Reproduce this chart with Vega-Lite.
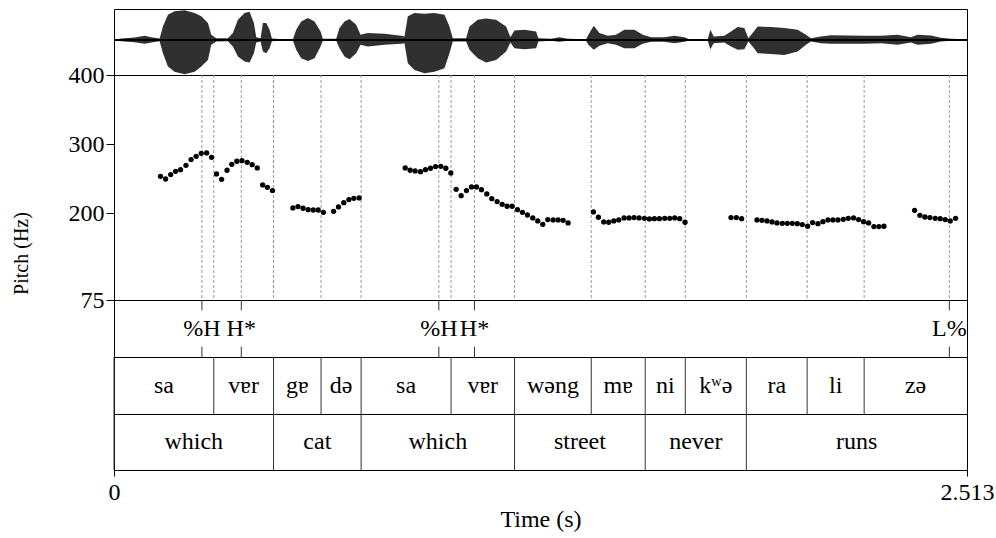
{
  "$schema": "https://vega.github.io/schema/vega-lite/v6.json",
  "background": "white",
  "padding": {"left": 10, "top": 8, "right": 0, "bottom": 0},
  "spacing": 0,
  "bounds": "flush",
  "config": {
    "font": "'Liberation Serif', 'DejaVu Serif', serif",
    "text": {"font": "'Liberation Serif', 'DejaVu Serif', serif"},
    "view": {"stroke": "black", "strokeWidth": 1},
    "axis": {"grid": false, "domainColor": "black", "tickColor": "black", "labelColor": "black", "titleColor": "black", "labelFont": "'Liberation Serif', 'DejaVu Serif', serif", "titleFont": "'Liberation Serif', 'DejaVu Serif', serif", "labelFontSize": 24, "titleFontSize": 24, "titleFontWeight": "normal"}
  },
  "datasets": {
    "wave": [
      {"t":0.0,"hi":0,"lo":0},{"t":0.0215,"hi":4,"lo":-4},{"t":0.0608,"hi":7,"lo":-7},{"t":0.0902,"hi":12,"lo":-12},{"t":0.1098,"hi":8,"lo":-8},{"t":0.1344,"hi":4,"lo":-4},{"t":0.1442,"hi":40,"lo":-40},{"t":0.1589,"hi":75,"lo":-80},{"t":0.1785,"hi":85,"lo":-95},{"t":0.2080,"hi":88,"lo":-103},{"t":0.2374,"hi":80,"lo":-95},{"t":0.2571,"hi":70,"lo":-80},{"t":0.2767,"hi":50,"lo":-60},{"t":0.2865,"hi":15,"lo":-15},{"t":0.3012,"hi":5,"lo":-5},{"t":0.3356,"hi":5,"lo":-4},{"t":0.3503,"hi":20,"lo":-20},{"t":0.3650,"hi":60,"lo":-50},{"t":0.3847,"hi":80,"lo":-65},{"t":0.3994,"hi":84,"lo":-68},{"t":0.4122,"hi":50,"lo":-40},{"t":0.4190,"hi":8,"lo":-8},{"t":0.4318,"hi":5,"lo":-5},{"t":0.4387,"hi":50,"lo":-35},{"t":0.4485,"hi":50,"lo":-40},{"t":0.4583,"hi":30,"lo":-25},{"t":0.4652,"hi":4,"lo":-4},{"t":0.4976,"hi":2,"lo":-2},{"t":0.5270,"hi":2,"lo":-2},{"t":0.5368,"hi":30,"lo":-30},{"t":0.5515,"hi":55,"lo":-55},{"t":0.5712,"hi":65,"lo":-63},{"t":0.5908,"hi":55,"lo":-55},{"t":0.6085,"hi":25,"lo":-20},{"t":0.6153,"hi":3,"lo":-3},{"t":0.6546,"hi":3,"lo":-3},{"t":0.6644,"hi":35,"lo":-25},{"t":0.6791,"hi":55,"lo":-50},{"t":0.6938,"hi":62,"lo":-58},{"t":0.7135,"hi":45,"lo":-40},{"t":0.7262,"hi":15,"lo":-15},{"t":0.7478,"hi":20,"lo":-20},{"t":0.7969,"hi":18,"lo":-15},{"t":0.8460,"hi":12,"lo":-12},{"t":0.8558,"hi":10,"lo":-10},{"t":0.8656,"hi":70,"lo":-70},{"t":0.8852,"hi":80,"lo":-90},{"t":0.9147,"hi":78,"lo":-100},{"t":0.9441,"hi":80,"lo":-95},{"t":0.9736,"hi":75,"lo":-85},{"t":0.9883,"hi":40,"lo":-40},{"t":0.9981,"hi":5,"lo":-5},{"t":1.0374,"hi":5,"lo":-5},{"t":1.0472,"hi":40,"lo":-30},{"t":1.0718,"hi":60,"lo":-55},{"t":1.0963,"hi":64,"lo":-68},{"t":1.1257,"hi":60,"lo":-60},{"t":1.1552,"hi":40,"lo":-35},{"t":1.1679,"hi":8,"lo":-8},{"t":1.1797,"hi":28,"lo":-25},{"t":1.2092,"hi":30,"lo":-28},{"t":1.2435,"hi":25,"lo":-25},{"t":1.2504,"hi":5,"lo":-5},{"t":1.2877,"hi":3,"lo":-3},{"t":1.3122,"hi":8,"lo":-6},{"t":1.3368,"hi":3,"lo":-3},{"t":1.3907,"hi":2,"lo":-2},{"t":1.3976,"hi":15,"lo":-15},{"t":1.4133,"hi":42,"lo":-30},{"t":1.4300,"hi":20,"lo":-18},{"t":1.4546,"hi":12,"lo":-10},{"t":1.4791,"hi":15,"lo":-15},{"t":1.5036,"hi":30,"lo":-25},{"t":1.5331,"hi":30,"lo":-25},{"t":1.5576,"hi":15,"lo":-12},{"t":1.5822,"hi":8,"lo":-6},{"t":1.6214,"hi":8,"lo":-6},{"t":1.6509,"hi":12,"lo":-10},{"t":1.6803,"hi":8,"lo":-6},{"t":1.6950,"hi":2,"lo":-2},{"t":1.7490,"hi":2,"lo":-2},{"t":1.7569,"hi":30,"lo":-28},{"t":1.7667,"hi":10,"lo":-10},{"t":1.7981,"hi":12,"lo":-8},{"t":1.8177,"hi":25,"lo":-20},{"t":1.8374,"hi":38,"lo":-30},{"t":1.8570,"hi":35,"lo":-28},{"t":1.8688,"hi":5,"lo":-5},{"t":1.8815,"hi":20,"lo":-20},{"t":1.8963,"hi":40,"lo":-40},{"t":1.9355,"hi":38,"lo":-42},{"t":1.9748,"hi":35,"lo":-45},{"t":2.0140,"hi":30,"lo":-35},{"t":2.0386,"hi":15,"lo":-15},{"t":2.0533,"hi":5,"lo":-5},{"t":2.0827,"hi":10,"lo":-10},{"t":2.1122,"hi":14,"lo":-12},{"t":2.1613,"hi":13,"lo":-12},{"t":2.2103,"hi":12,"lo":-12},{"t":2.2594,"hi":12,"lo":-10},{"t":2.3085,"hi":15,"lo":-15},{"t":2.3478,"hi":8,"lo":-8},{"t":2.3674,"hi":15,"lo":-15},{"t":2.4067,"hi":13,"lo":-12},{"t":2.4361,"hi":6,"lo":-5},{"t":2.4656,"hi":3,"lo":-3},{"t":2.5097,"hi":2,"lo":-2},{"t":2.513,"hi":1,"lo":-1}
    ],
    "pitch": [
      {"t":0.137,"f0":253.7},{"t":0.152,"f0":249.8},{"t":0.167,"f0":256.1},{"t":0.1815,"f0":260.9},{"t":0.196,"f0":263.3},{"t":0.212,"f0":269.6},{"t":0.227,"f0":277.8},{"t":0.242,"f0":282.6},{"t":0.257,"f0":286.9},{"t":0.273,"f0":287.4},{"t":0.2875,"f0":281.1},{"t":0.302,"f0":257.1},{"t":0.317,"f0":249.3},{"t":0.333,"f0":262.4},{"t":0.347,"f0":271.0},{"t":0.362,"f0":275.4},{"t":0.377,"f0":276.3},{"t":0.3925,"f0":273.9},{"t":0.407,"f0":270.5},{"t":0.422,"f0":265.7},{"t":0.438,"f0":241.2},{"t":0.452,"f0":237.8},{"t":0.467,"f0":233.0},
      {"t":0.527,"f0":208.0},{"t":0.542,"f0":209.9},{"t":0.557,"f0":207.5},{"t":0.572,"f0":205.5},{"t":0.587,"f0":205.0},{"t":0.6016,"f0":205.0},{"t":0.617,"f0":201.7},{"t":0.647,"f0":203.1},{"t":0.6615,"f0":209.4},{"t":0.677,"f0":215.6},{"t":0.692,"f0":220.0},{"t":0.7066,"f0":221.9},{"t":0.7223,"f0":222.4},
      {"t":0.858,"f0":265.7},{"t":0.8725,"f0":262.4},{"t":0.8873,"f0":261.4},{"t":0.903,"f0":260.4},{"t":0.9177,"f0":263.3},{"t":0.9324,"f0":265.3},{"t":0.9471,"f0":267.7},{"t":0.9628,"f0":268.1},{"t":0.9776,"f0":265.3},{"t":0.9923,"f0":258.5},{"t":1.008,"f0":234.9},{"t":1.0227,"f0":225.7},{"t":1.0384,"f0":233.0},{"t":1.0532,"f0":238.3},{"t":1.0679,"f0":238.3},{"t":1.0826,"f0":234.4},{"t":1.0983,"f0":228.2},{"t":1.113,"f0":221.4},{"t":1.1287,"f0":217.1},{"t":1.1435,"f0":213.2},{"t":1.1582,"f0":210.4},{"t":1.1729,"f0":210.4},{"t":1.1886,"f0":205.5},{"t":1.2033,"f0":201.7},{"t":1.218,"f0":197.8},{"t":1.2337,"f0":193.5},{"t":1.2485,"f0":189.2},{"t":1.2632,"f0":184.3},{"t":1.2779,"f0":191.1},{"t":1.2936,"f0":190.6},{"t":1.3084,"f0":190.6},{"t":1.3231,"f0":190.1},{"t":1.3378,"f0":186.3},
      {"t":1.4124,"f0":202.2},{"t":1.4271,"f0":194.5},{"t":1.4428,"f0":187.7},{"t":1.4575,"f0":187.3},{"t":1.4723,"f0":189.2},{"t":1.487,"f0":190.6},{"t":1.5027,"f0":193.5},{"t":1.5174,"f0":193.5},{"t":1.5321,"f0":194.0},{"t":1.5469,"f0":193.5},{"t":1.5626,"f0":193.0},{"t":1.5773,"f0":192.1},{"t":1.592,"f0":192.5},{"t":1.6067,"f0":192.5},{"t":1.6224,"f0":193.0},{"t":1.6372,"f0":193.0},{"t":1.6519,"f0":193.5},{"t":1.6666,"f0":192.5},{"t":1.6823,"f0":187.3},
      {"t":1.8177,"f0":194.0},{"t":1.8334,"f0":194.0},{"t":1.8491,"f0":192.5},
      {"t":1.8943,"f0":190.6},{"t":1.909,"f0":190.1},{"t":1.9237,"f0":189.2},{"t":1.9385,"f0":187.7},{"t":1.9532,"f0":186.3},{"t":1.9689,"f0":185.8},{"t":1.9836,"f0":185.8},{"t":1.9983,"f0":185.8},{"t":2.0131,"f0":185.3},{"t":2.0278,"f0":183.9},{"t":2.0435,"f0":181.5},{"t":2.0582,"f0":186.8},{"t":2.0739,"f0":185.3},{"t":2.0886,"f0":188.2},{"t":2.1034,"f0":190.6},{"t":2.1181,"f0":190.6},{"t":2.1328,"f0":190.6},{"t":2.1485,"f0":191.6},{"t":2.1632,"f0":193.0},{"t":2.1789,"f0":193.5},{"t":2.1937,"f0":191.1},{"t":2.2084,"f0":188.2},{"t":2.2231,"f0":186.3},{"t":2.2388,"f0":181.0},{"t":2.2535,"f0":181.0},{"t":2.2683,"f0":181.5},
      {"t":2.3586,"f0":204.6},{"t":2.3743,"f0":197.3},{"t":2.389,"f0":194.9},{"t":2.4037,"f0":194.0},{"t":2.4194,"f0":193.0},{"t":2.4341,"f0":192.5},{"t":2.4489,"f0":191.1},{"t":2.4636,"f0":189.2},{"t":2.4793,"f0":193.0}
    ],
    "tones": [
      {"t":0.259,"label":"%H"},{"t":0.375,"label":"H*"},{"t":0.957,"label":"%H"},{"t":1.062,"label":"H*"},{"t":2.461,"label":"L%"}
    ],
    "syll": [
      {"start":0.0,"end":0.294,"label":"sa"},{"start":0.294,"end":0.470,"label":"vɐr"},{"start":0.470,"end":0.610,"label":"gɐ"},{"start":0.610,"end":0.728,"label":"də"},{"start":0.728,"end":0.993,"label":"sa"},{"start":0.993,"end":1.180,"label":"vɐr"},{"start":1.180,"end":1.406,"label":"wəng"},{"start":1.406,"end":1.565,"label":"mɐ"},{"start":1.565,"end":1.683,"label":"ni"},{"start":1.683,"end":1.863,"label":"kʷə"},{"start":1.863,"end":2.042,"label":"ra"},{"start":2.042,"end":2.210,"label":"li"},{"start":2.210,"end":2.513,"label":"zə"}
    ],
    "words": [
      {"start":0.0,"end":0.470,"label":"which"},{"start":0.470,"end":0.728,"label":"cat"},{"start":0.728,"end":1.180,"label":"which"},{"start":1.180,"end":1.565,"label":"street"},{"start":1.565,"end":1.863,"label":"never"},{"start":1.863,"end":2.513,"label":"runs"}
    ]
  },
  "vconcat": [
    {
      "width": 853, "height": 66,
      "data": {"name": "wave"},
      "layer": [
        {"mark": {"type": "area", "color": "#1a1a1a", "opacity": 0.9},
         "encoding": {
           "x": {"field": "t", "type": "quantitative", "scale": {"domain": [0, 2.513], "nice": false, "zero": false}, "axis": null},
           "y": {"field": "hi", "type": "quantitative", "scale": {"domain": [-105, 92], "nice": false, "zero": false}, "axis": null},
           "y2": {"field": "lo"}
         }},
        {"mark": {"type": "rule", "color": "black", "strokeWidth": 1},
         "encoding": {"y": {"datum": 0, "type": "quantitative", "scale": {"domain": [-105, 92], "nice": false, "zero": false}, "axis": null}}}
      ]
    },
    {
      "width": 853, "height": 225,
      "layer": [
        {"data": {"name": "syll"},
         "transform": [{"filter": "datum.start > 0"}],
         "mark": {"type": "rule", "color": "#999999", "strokeDash": [3, 2], "strokeWidth": 1},
         "encoding": {"x": {"field": "start", "type": "quantitative", "scale": {"domain": [0, 2.513], "nice": false, "zero": false}, "axis": null}}},
        {"data": {"name": "tones"},
         "mark": {"type": "rule", "color": "#999999", "strokeDash": [3, 2], "strokeWidth": 1},
         "encoding": {"x": {"field": "t", "type": "quantitative", "scale": {"domain": [0, 2.513], "nice": false, "zero": false}, "axis": null}}},
        {"data": {"name": "pitch"},
         "mark": {"type": "circle", "color": "black", "opacity": 1, "size": 28},
         "encoding": {
           "x": {"field": "t", "type": "quantitative", "scale": {"domain": [0, 2.513], "nice": false, "zero": false}, "axis": null},
           "y": {"field": "f0", "type": "quantitative", "scale": {"domain": [75, 400], "nice": false, "zero": false},
                 "axis": {"values": [75, 200, 300, 400], "title": "Pitch (Hz)", "tickSize": 8, "labelPadding": 2, "domain": true, "titleFontSize": 20, "titleX": -93, "titleY": 178, "titleAlign": "center", "titleBaseline": "middle", "titleAngle": -90}}
         }}
      ]
    },
    {
      "width": 853, "height": 57,
      "data": {"name": "tones"},
      "layer": [
        {"mark": {"type": "text", "fontSize": 24, "color": "black", "baseline": "middle", "align": "center"},
         "encoding": {
           "x": {"field": "t", "type": "quantitative", "scale": {"domain": [0, 2.513], "nice": false, "zero": false}, "axis": null},
           "y": {"datum": 0.5, "type": "quantitative", "scale": {"domain": [0, 1], "nice": false}, "axis": null},
           "text": {"field": "label"}
         }},
        {"mark": {"type": "rule", "color": "#333333", "strokeWidth": 1},
         "encoding": {
           "x": {"field": "t", "type": "quantitative", "scale": {"domain": [0, 2.513], "nice": false, "zero": false}, "axis": null},
           "y": {"datum": 1, "type": "quantitative", "scale": {"domain": [0, 1], "nice": false}, "axis": null},
           "y2": {"datum": 0.82}
         }},
        {"mark": {"type": "rule", "color": "#333333", "strokeWidth": 1},
         "encoding": {
           "x": {"field": "t", "type": "quantitative", "scale": {"domain": [0, 2.513], "nice": false, "zero": false}, "axis": null},
           "y": {"datum": 0.18, "type": "quantitative", "scale": {"domain": [0, 1], "nice": false}, "axis": null},
           "y2": {"datum": 0}
         }}
      ]
    },
    {
      "width": 853, "height": 57,
      "data": {"name": "syll"},
      "layer": [
        {"mark": {"type": "rule", "color": "#333333", "strokeWidth": 1},
         "encoding": {"x": {"field": "start", "type": "quantitative", "scale": {"domain": [0, 2.513], "nice": false, "zero": false}, "axis": null}}},
        {"transform": [{"fold": ["start", "end"], "as": ["edge", "time"]}],
         "mark": {"type": "text", "fontSize": 24, "color": "black", "baseline": "middle", "align": "center"},
         "encoding": {
           "x": {"aggregate": "mean", "field": "time", "type": "quantitative", "scale": {"domain": [0, 2.513], "nice": false, "zero": false}, "axis": null},
           "text": {"field": "label", "type": "nominal"},
           "detail": {"field": "start", "type": "quantitative"}
         }}
      ]
    },
    {
      "width": 853, "height": 56,
      "data": {"name": "words"},
      "layer": [
        {"mark": {"type": "rule", "color": "#333333", "strokeWidth": 1},
         "encoding": {"x": {"field": "start", "type": "quantitative", "scale": {"domain": [0, 2.513], "nice": false, "zero": false},
           "axis": {"values": [0, 2.513], "labelExpr": "datum.value == 0 ? '0' : '2.513'", "labelFlush": false, "title": "Time (s)", "tickSize": 6, "labelPadding": 4, "titlePadding": 3, "domain": true}}}},
        {"transform": [{"fold": ["start", "end"], "as": ["edge", "time"]}],
         "mark": {"type": "text", "fontSize": 24, "color": "black", "baseline": "middle", "align": "center"},
         "encoding": {
           "x": {"aggregate": "mean", "field": "time", "type": "quantitative", "scale": {"domain": [0, 2.513], "nice": false, "zero": false}},
           "text": {"field": "label", "type": "nominal"},
           "detail": {"field": "start", "type": "quantitative"}
         }}
      ]
    }
  ]
}
